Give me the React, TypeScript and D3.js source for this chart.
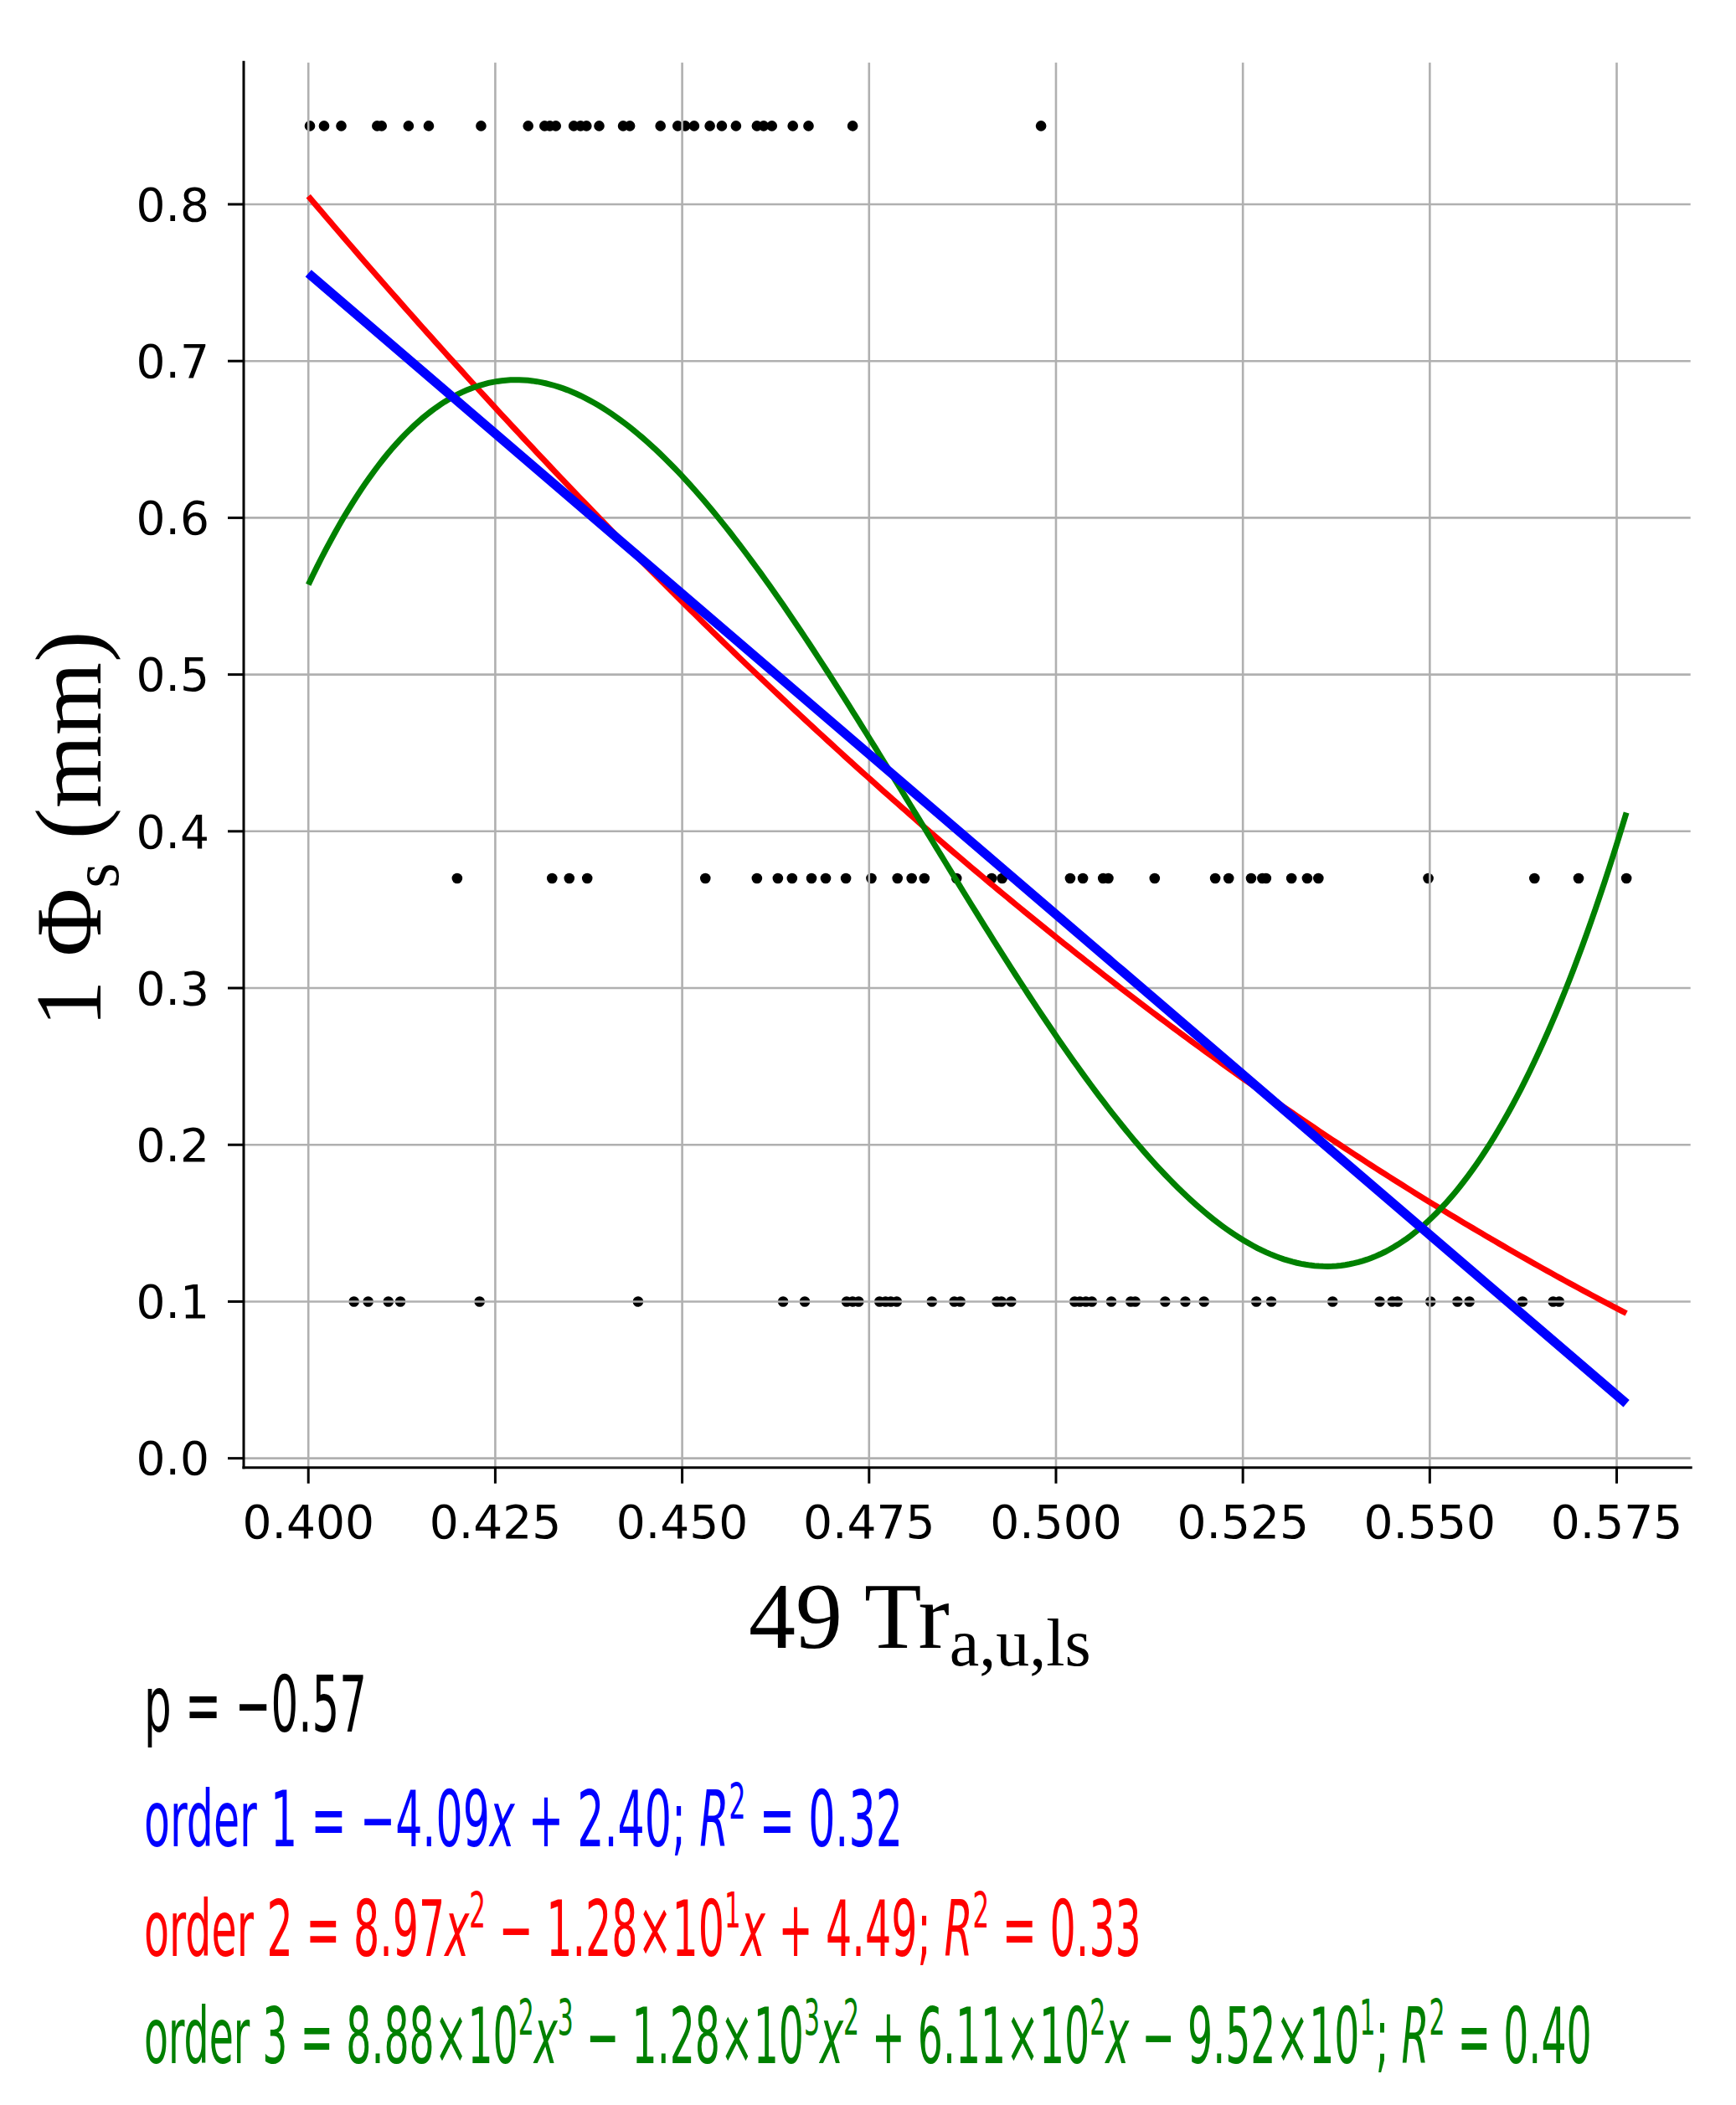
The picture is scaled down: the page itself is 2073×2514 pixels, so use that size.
import React, { useLayoutEffect, useRef } from 'react';
import * as d3 from 'd3';

// scatter rows (x values) and their y level
const topX = [0.4002, 0.4021, 0.4044, 0.4092, 0.4098, 0.4134, 0.4161, 0.4231, 0.4294, 0.4316, 0.4323, 0.4331, 0.4355, 0.4364, 0.4372, 0.4389, 0.4421, 0.4430, 0.4471, 0.4494, 0.4504, 0.4516, 0.4537, 0.4553, 0.4572, 0.4600, 0.4609, 0.4620, 0.4648, 0.4669, 0.4728, 0.4980];
const midX = [0.4199, 0.4326, 0.4349, 0.4373, 0.4531, 0.4600, 0.4628, 0.4647, 0.4673, 0.4692, 0.4719, 0.4753, 0.4788, 0.4807, 0.4824, 0.4867, 0.4914, 0.4928, 0.5019, 0.5036, 0.5063, 0.5070, 0.5132, 0.5213, 0.5231, 0.5261, 0.5276, 0.5281, 0.5315, 0.5336, 0.5351, 0.5498, 0.5640, 0.5699, 0.5763];
const botX = [0.4061, 0.4080, 0.4107, 0.4123, 0.4229, 0.4441, 0.4635, 0.4664, 0.4720, 0.4728, 0.4736, 0.4764, 0.4772, 0.4779, 0.4787, 0.4834, 0.4864, 0.4872, 0.4921, 0.4927, 0.4940, 0.5025, 0.5032, 0.5040, 0.5048, 0.5074, 0.5100, 0.5106, 0.5146, 0.5173, 0.5198, 0.5268, 0.5288, 0.5370, 0.5433, 0.5450, 0.5457, 0.5501, 0.5537, 0.5553, 0.5624, 0.5665, 0.5673];
const rowY = [0.85, 0.37, 0.10];

// polynomial fit coefficients, highest power first
const order1 = [-4.09, 2.392];
const order2 = [8.97, -12.8, 4.49];
const order3 = [888, -1284.048, 611.0853, -95.2611];
const fitRange = [0.4, 0.5763];

const xTicks = [0.4, 0.425, 0.45, 0.475, 0.5, 0.525, 0.55, 0.575];
const yTicks = [0.0, 0.1, 0.2, 0.3, 0.4, 0.5, 0.6, 0.7, 0.8];

// widths the stats lines take in the reference
const statWidths = [266, 906, 1191, 1729];

const W = 2073, H = 2514;
const plot = { left: 291, right: 2020.7, top: 72.7, bottom: 1752.7 };
const statX = 172;

const poly = (c: number[], x: number) => c.reduce((acc, k) => acc * x + k, 0);

export default function App() {
    const statsRef = useRef<SVGGElement | null>(null);

    // squeeze each stats line horizontally to the reference width
    useLayoutEffect(() => {
        const g = statsRef.current;
        if (!g) return;
        g.querySelectorAll<SVGTextElement>('text').forEach((t, i) => {
            t.removeAttribute('transform');
            const w = t.getComputedTextLength();
            const k = statWidths[i] / w;
            t.setAttribute('transform', `translate(${statX},0) scale(${k},1) translate(${-statX},0)`);
        });
    }, []);

    const x = d3.scaleLinear().domain([0.39135, 0.5851]).range([plot.left, plot.right]);
    const y = d3.scaleLinear().domain([-0.0059, 0.8915]).range([plot.bottom, plot.top]);

    const xs = d3.range(0, 301).map(i => fitRange[0] + (fitRange[1] - fitRange[0]) * i / 300);
    const line = (c: number[]) => d3.line<number>().x(v => x(v)).y(v => y(poly(c, v)))(xs) || '';

    const dots = [
        ...topX.map(v => [v, rowY[0]]),
        ...midX.map(v => [v, rowY[1]]),
        ...botX.map(v => [v, rowY[2]]),
    ];

    const tickFont = { fontFamily: 'DejaVu Sans', fontSize: 55 };
    const eqFont = { fontFamily: 'DejaVu Sans', fontSize: 92, whiteSpace: 'pre' as const };
    const sup = { baselineShift: 'super', fontSize: 58 } as any;
    const it = { fontStyle: 'italic' };

    return (
        <svg width={W} height={H} viewBox={`0 0 ${W} ${H}`}
            style={{ position: 'absolute', left: 0, top: 0, background: '#fff' }}>
            <rect width={W} height={H} fill="#fff" />

            {/* scatter (drawn under the grid, as in the reference) */}
            <g fill="#000">
                {dots.map((d, i) => <circle key={i} cx={x(d[0])} cy={y(d[1])} r={6.3} />)}
            </g>

            {/* grid */}
            <g stroke="#b0b0b0" strokeWidth={2.6}>
                {xTicks.map(t => <line key={'gx' + t} x1={x(t)} x2={x(t)} y1={plot.top + 2} y2={plot.bottom} />)}
                {yTicks.map(t => <line key={'gy' + t} x1={plot.left} x2={plot.right - 2} y1={y(t)} y2={y(t)} />)}
            </g>

            {/* fits */}
            <g fill="none" strokeLinecap="butt">
                <path d={line(order2)} stroke="#ff0000" strokeWidth={7} />
                <path d={line(order3)} stroke="#008000" strokeWidth={7} />
                <path d={line(order1)} stroke="#0000ff" strokeWidth={11} />
            </g>

            {/* spines */}
            <g stroke="#000" strokeWidth={3}>
                <line x1={plot.left} x2={plot.left} y1={plot.top} y2={plot.bottom + 1.5} />
                <line x1={plot.left - 1.5} x2={plot.right} y1={plot.bottom} y2={plot.bottom} />
            </g>

            {/* ticks and labels */}
            <g stroke="#000" strokeWidth={3}>
                {xTicks.map(t => <line key={'tx' + t} x1={x(t)} x2={x(t)} y1={plot.bottom} y2={plot.bottom + 19} />)}
                {yTicks.map(t => <line key={'ty' + t} x1={plot.left - 19} x2={plot.left} y1={y(t)} y2={y(t)} />)}
            </g>
            <g style={tickFont} fill="#000">
                {xTicks.map(t => (
                    <text key={'lx' + t} x={x(t)} y={1837} textAnchor="middle">{d3.format('.3f')(t)}</text>
                ))}
                {yTicks.map(t => (
                    <text key={'ly' + t} x={250} y={y(t)} dy="0.36em" textAnchor="end">{d3.format('.1f')(t)}</text>
                ))}
            </g>

            {/* axis titles */}
            <text x={894} y={1968} fontFamily="Liberation Serif" fontSize={112} fill="#000">
                49 Tr<tspan fontSize={80} dy={21}>a,u,ls</tspan>
            </text>
            <text transform="translate(120,990) rotate(-90)" textAnchor="middle"
                fontFamily="Liberation Serif" fontSize={112} fill="#000">
                1 Φ<tspan fontSize={78} dy={21}>s</tspan><tspan dy={-21}> (mm)</tspan>
            </text>

            {/* statistics text */}
            <g ref={statsRef} style={eqFont}>
                <text x={statX} y={2068} fill="#000">p = −0.57</text>
                <text x={statX} y={2205} fill="#0000ff">
                    order 1 = −4.09<tspan style={it}>x</tspan> + 2.40; <tspan style={it}>R</tspan><tspan style={sup}>2</tspan> = 0.32
                </text>
                <text x={statX} y={2336} fill="#ff0000">
                    order 2 = 8.97<tspan style={it}>x</tspan><tspan style={sup}>2</tspan> − 1.28×10<tspan style={sup}>1</tspan><tspan style={it}>x</tspan> + 4.49; <tspan style={it}>R</tspan><tspan style={sup}>2</tspan> = 0.33
                </text>
                <text x={statX} y={2464} fill="#008000">
                    order 3 = 8.88×10<tspan style={sup}>2</tspan><tspan style={it}>x</tspan><tspan style={sup}>3</tspan> − 1.28×10<tspan style={sup}>3</tspan><tspan style={it}>x</tspan><tspan style={sup}>2</tspan> + 6.11×10<tspan style={sup}>2</tspan><tspan style={it}>x</tspan> − 9.52×10<tspan style={sup}>1</tspan>; <tspan style={it}>R</tspan><tspan style={sup}>2</tspan> = 0.40
                </text>
            </g>
        </svg>
    );
}
